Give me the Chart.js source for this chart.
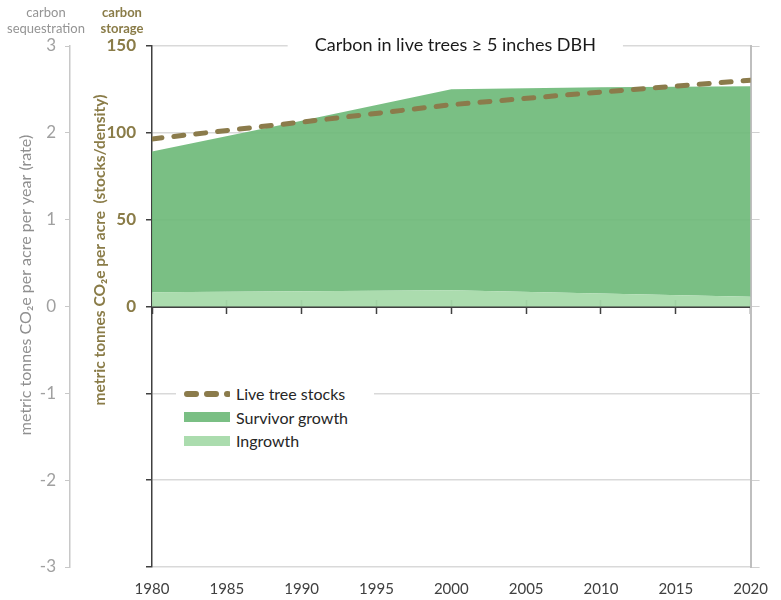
<!DOCTYPE html>
<html>
<head>
<meta charset="utf-8">
<title>Carbon in live trees</title>
<script src="https://cdn.jsdelivr.net/npm/chart.js@4.4.1/dist/chart.umd.min.js"></script>
<style>
  body { margin: 0; background: #fff; font-family: Lato, 'Noto Sans', sans-serif; }
  #wrap { position: relative; width: 781px; height: 600px; }
  .hdr { position: absolute; top: 4px; font-size: 13px; line-height: 16px; text-align: center; }
  #hdr-seq { left: 0; width: 92px; color: #949494; }
  #hdr-store { left: 96px; width: 52px; color: #8a7c48; font-weight: bold; }
  #legend { position: absolute; left: 176px; top: 380px; width: 198px; background: #fff; padding: 2px 0; }
  .item { display: flex; align-items: center; height: 23.5px; font-size: 16px; color: #262626; }
  .swatch { width: 46px; margin: 0 6px 0 8px; display: flex; align-items: center; }
</style>
</head>
<body>
<div id="wrap">
  <canvas id="chart" width="781" height="600"></canvas>
  <div class="hdr" id="hdr-seq">carbon<br>sequestration</div>
  <div class="hdr" id="hdr-store">carbon<br>storage</div>
  <div id="legend"></div>
</div>
<script>
'use strict';

// ******* DATA *******
let years = [1980, 1990, 2000, 2010, 2020];
let ingrowth = [8.2, 8.8, 9.4, 7.5, 5.6];
let survivorGrowth = [81.1, 98.2, 115.7, 118.7, 121.2];
let liveTreeStocks = [96.5, 106.2, 116.2, 123.5, 130.3];

let yearTicks = [1980, 1985, 1990, 1995, 2000, 2005, 2010, 2015, 2020];
let rateTicks = [-3, -2, -1, 0, 1, 2, 3];
let stockTicks = [0, 50, 100, 150];

// ******* COLOURS *******
const FONT = 'Lato, "Noto Sans", sans-serif';
const DARK = '#404040';
const GRAY = '#a0a0a0';
const OLIVE = '#8a7c48';
const STOCK_LINE = '#8b7b4b';
const SURVIVOR = 'rgba(108,184,119,0.9)';
const INGROWTH = 'rgba(166,218,170,0.95)';

Chart.defaults.font.family = FONT;

// ***** HELPERS *****
function toPoints(values) {
  return years.map((yr, i) => ({ x: yr, y: values[i] }));
}

function setTicks(list) {
  return function (axis) {
    axis.ticks = list.map(v => ({ value: v }));
  };
}

// draws the chart title and the two rotated axis titles
const textPlugin = {
  id: 'textPlugin',
  afterDraw(chart) {
    let ctx = chart.ctx;
    let area = chart.chartArea;
    ctx.save();

    let title = 'Carbon in live trees \u2265 5 inches DBH';
    ctx.font = '18px ' + FONT;
    let w = ctx.measureText(title).width;
    let cx = (area.left + area.right) / 2 + 4;
    ctx.fillStyle = '#fff';
    ctx.fillRect(cx - w / 2 - 27, area.top - 10, w + 54, 20);
    ctx.fillStyle = '#1a1a1a';
    ctx.textAlign = 'center';
    ctx.textBaseline = 'middle';
    ctx.fillText(title, cx, area.top - 1);

    ctx.translate(26, 285);
    ctx.rotate(-Math.PI / 2);
    ctx.font = '16px ' + FONT;
    ctx.fillStyle = '#8f8f8f';
    ctx.fillText('metric tonnes CO\u2082e per acre per year (rate)', 0, 0);
    ctx.restore();

    ctx.save();
    ctx.translate(100, 250);
    ctx.rotate(-Math.PI / 2);
    ctx.font = 'bold 15.5px ' + FONT;
    ctx.fillStyle = OLIVE;
    ctx.textAlign = 'center';
    ctx.textBaseline = 'middle';
    ctx.fillText('metric tonnes CO\u2082e per acre  (stocks/density)', 0, 0);
    ctx.restore();
  }
};

// ***** CHART *****
let chartObj = {
  type: 'line',
  data: {
    datasets: [{
      label: 'Ingrowth',
      data: toPoints(ingrowth),
      yAxisID: 'yStore',
      stack: 'areas',
      fill: 'origin',
      backgroundColor: INGROWTH,
      borderColor: 'transparent',
      borderWidth: 0,
      pointRadius: 0,
      order: 1
    },
    {
      label: 'Survivor growth',
      data: toPoints(survivorGrowth),
      yAxisID: 'yStore',
      stack: 'areas',
      fill: '-1',
      backgroundColor: SURVIVOR,
      borderColor: 'transparent',
      borderWidth: 0,
      pointRadius: 0,
      order: 1
    },
    {
      label: 'Live tree stocks',
      data: toPoints(liveTreeStocks),
      yAxisID: 'yStore',
      stack: 'stocks',
      fill: false,
      borderColor: STOCK_LINE,
      borderWidth: 5,
      borderDash: [10, 12],
      borderCapStyle: 'round',
      pointRadius: 0,
      order: 0
    }]
  },
  options: {
    responsive: false,
    animation: false,
    devicePixelRatio: 1,
    layout: { padding: { top: 46, left: 0, right: 0, bottom: 0 } },
    plugins: {
      legend: { display: false },
      tooltip: { enabled: false }
    },
    scales: {
      x: {
        type: 'linear',
        min: 1980,
        max: 2020,
        afterBuildTicks: setTicks(yearTicks),
        ticks: { callback: v => String(v), color: DARK, font: { size: 15 }, padding: 13, maxRotation: 0, autoSkip: false },
        grid: { display: false, drawTicks: false },
        border: { display: false },
        afterFit: axis => { axis.height = 33; }
      },
      xZero: {
        type: 'linear',
        min: 1980,
        max: 2020,
        position: { yStore: 0 },
        afterBuildTicks: setTicks(yearTicks),
        ticks: { display: false },
        grid: { drawOnChartArea: false, tickLength: 6, tickColor: DARK, tickWidth: 1.5 },
        border: { color: DARK, width: 2 },
        z: 1
      },
      xZeroUp: {
        type: 'linear',
        min: 1980,
        max: 2020,
        position: { yStore: 0 },
        afterBuildTicks: setTicks(yearTicks),
        ticks: { display: false },
        grid: { drawOnChartArea: false, tickLength: -7, tickColor: DARK, tickWidth: 1.5 },
        border: { display: false },
        z: 1
      },
      ySeq: {
        position: 'left',
        weight: 1,
        min: -3,
        max: 3,
        afterBuildTicks: setTicks(rateTicks),
        ticks: { color: GRAY, font: { size: 17 }, padding: 9 },
        grid: { drawOnChartArea: false, tickLength: 5, tickColor: '#c8c8c8' },
        border: { color: '#c8c8c8', width: 1.5 },
        afterFit: axis => { axis.width = 70; }
      },
      yStore: {
        position: 'left',
        weight: 0,
        stacked: true,
        min: -150,
        max: 150,
        ticks: {
          stepSize: 50,
          callback: v => stockTicks.includes(v) ? String(v) : '',
          color: OLIVE,
          font: { size: 17, weight: 'bold' },
          padding: 10
        },
        grid: {
          color: ctx => (ctx.tick && ctx.tick.value === 0) ? 'transparent' : '#d9d9d9',
          lineWidth: 1.5,
          tickColor: DARK,
          tickLength: 6
        },
        border: { color: DARK, width: 1.5 },
        afterFit: axis => { axis.width = 82; }
      },
      yRight: {
        position: 'right',
        min: -150,
        max: 150,
        ticks: { display: false, stepSize: 50 },
        grid: { drawOnChartArea: false, tickLength: 9, tickColor: '#d0d0d0' },
        border: { color: '#bfbfbf', width: 2 },
        afterFit: axis => { axis.width = 26; }
      }
    }
  },
  plugins: [textPlugin]
};

let canvasElem = document.getElementById('chart');
let chart = new Chart(canvasElem, chartObj);

// ***** LEGEND *****
function renderLegend() {
  let legendElem = document.getElementById('legend');
  let order = [2, 1, 0];
  for (let i = 0; i < order.length; i++) {
    let ds = chart.data.datasets[order[i]];
    let row = document.createElement('div');
    row.className = 'item';
    let swatch = document.createElement('span');
    swatch.className = 'swatch';
    if (ds.stack === 'stocks') {
      swatch.innerHTML = `<svg width="46" height="8"><line x1="3" y1="4" x2="44" y2="4" stroke="${ds.borderColor}" stroke-width="6" stroke-linecap="round" stroke-dasharray="9 11"/></svg>`;
    } else {
      swatch.innerHTML = `<span style="display:block;width:46px;height:10px;background:${ds.backgroundColor}"></span>`;
    }
    let label = document.createElement('span');
    label.textContent = ds.label;
    row.appendChild(swatch);
    row.appendChild(label);
    legendElem.appendChild(row);
  }
}

renderLegend();
</script>
</body>
</html>
